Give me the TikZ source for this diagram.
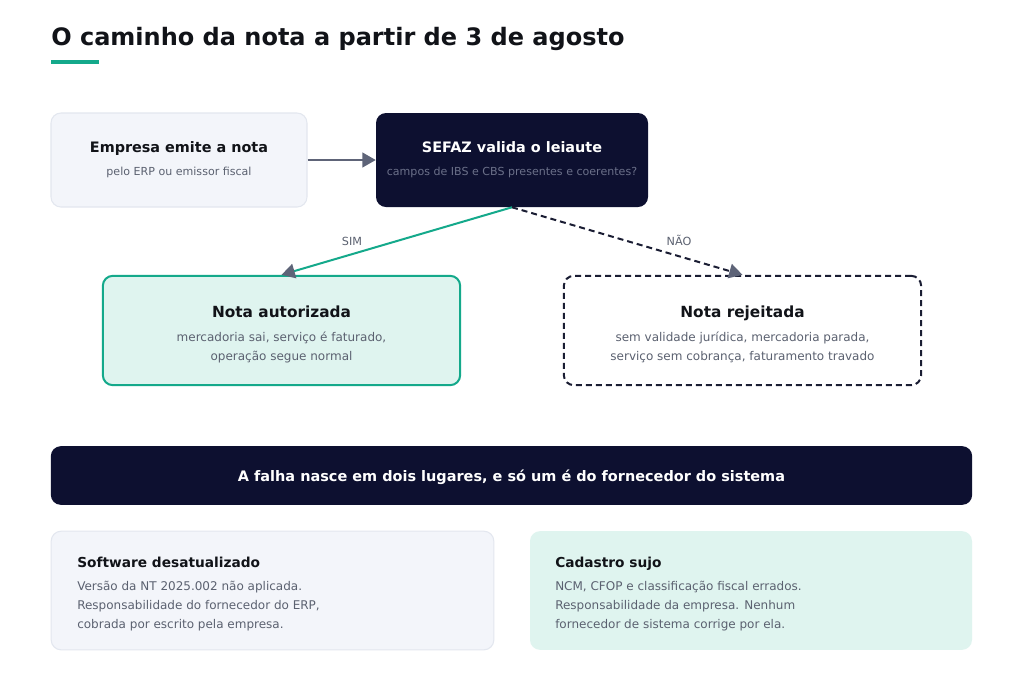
\documentclass[tikz,border=0pt]{standalone}
\usepackage{fontspec}
\setmainfont{DejaVu Sans}
\usetikzlibrary{arrows.meta,positioning}
\definecolor{ink}{HTML}{111318}
\definecolor{navy}{HTML}{0D1030}
\definecolor{teal}{HTML}{14A98B}
\definecolor{paper}{HTML}{F3F5FA}
\definecolor{paperline}{HTML}{E3E7EF}
\definecolor{mint}{HTML}{DFF4EF}
\definecolor{muted}{HTML}{5B6170}
\definecolor{navymuted}{HTML}{6B7089}
\definecolor{arrowgray}{HTML}{5E6478}
\definecolor{dashink}{HTML}{1A1D33}

\begin{document}
\begin{tikzpicture}[x=0.75pt,y=-0.75pt,
    tip/.style={-{Triangle[length=10pt,width=11pt,color=arrowgray]}}]
  \tikzstyle{card}=[rectangle,rounded corners=7.5pt,inner sep=0pt]
  \tikzstyle{head}=[inner sep=0pt,anchor=base,text=ink,font=\bfseries\fontsize{10.8}{13}\selectfont]
  \tikzstyle{sub}=[inner sep=0pt,anchor=base,text=muted,font=\fontsize{8.3}{10}\selectfont]
  \tikzstyle{body}=[inner sep=0pt,anchor=base,text=muted,font=\fontsize{9}{11}\selectfont]
  \useasboundingbox [fill=white] (0,0) rectangle (1024,687);

  % title
  \node [inner sep=0pt,anchor=base west,text=ink,font=\bfseries\fontsize{18}{21}\selectfont] (title) at (51,45) {O caminho da nota a partir de 3 de agosto};
  \node [fill=teal,inner sep=0pt,minimum width=36pt,minimum height=3pt,anchor=west] (bar) at (51,62) {};

  % flow
  \node [card,fill=paper,draw=paperline,line width=0.8pt,minimum width=192pt,minimum height=70.5pt] (emit) at (179,160) {};
  \node [head] (emitT) at (179,152) {Empresa emite a nota};
  \node [sub] (emitS) at (179,175) {pelo ERP ou emissor fiscal};

  \node [card,fill=navy,minimum width=204pt,minimum height=70.5pt] (sefaz) at (512,160) {};
  \node [head,text=white] (sefazT) at (512,152) {SEFAZ valida o leiaute};
  \node [sub,text=navymuted] (sefazS) at (512,175) {campos de IBS e CBS presentes e coerentes?};

  \node [card,fill=mint,draw=teal,line width=1.5pt,minimum width=268pt,minimum height=82pt] (ok) at (281.5,330.5) {};
  \node [head,font=\bfseries\fontsize{11.5}{14}\selectfont] (okT) at (281.5,317) {Nota autorizada};
  \node [body] (okA) at (281.5,341) {mercadoria sai, serviço é faturado,};
  \node [body] (okB) at (281.5,360) {operação segue normal};

  \node [card,fill=white,draw=dashink,line width=1.5pt,dash pattern=on 4.5pt off 3pt,minimum width=268pt,minimum height=82pt] (rej) at (742.5,330.5) {};
  \node [head,font=\bfseries\fontsize{11.5}{14}\selectfont] (rejT) at (742.5,317) {Nota rejeitada};
  \node [body] (rejA) at (742.5,341) {sem validade jurídica, mercadoria parada,};
  \node [body] (rejB) at (742.5,360) {serviço sem cobrança, faturamento travado};

  \draw [tip,arrowgray,line width=1.5pt] (emit) -- (sefaz);
  \draw [tip,teal,line width=1.5pt] (sefaz.south) -- (ok.north);
  \draw [tip,dashink,line width=1.5pt,dash pattern=on 4.5pt off 3pt] (sefaz.south) -- (rej.north);
  \node [sub,text=muted,font=\fontsize{8.4}{10}\selectfont] (sim) at (352,245) {SIM};
  \node [sub,text=muted,font=\fontsize{8.4}{10}\selectfont] (nao) at (679,245) {NÃO};

  % banner
  \node [card,fill=navy,minimum width=691pt,minimum height=44pt] (banner) at (511.5,475.5) {};
  \node [head,text=white,font=\bfseries\fontsize{10.85}{13}\selectfont] (bannerT) at (511.5,481) {A falha nasce em dois lugares, e só um é do fornecedor do sistema};

  % causes
  \node [card,fill=paper,draw=paperline,line width=0.8pt,minimum width=332pt,minimum height=89pt] (soft) at (272.5,590.5) {};
  \node [head,anchor=base west,font=\bfseries\fontsize{10.3}{12}\selectfont] (softT) at (77,567) {Software desatualizado};
  \node [body,anchor=base west] (softA) at (77,590) {Versão da NT 2025.002 não aplicada.};
  \node [body,anchor=base west] (softB) at (77,609) {Responsabilidade do fornecedor do ERP,};
  \node [body,anchor=base west] (softC) at (77,628) {cobrada por escrito pela empresa.};

  \node [card,fill=mint,minimum width=331.5pt,minimum height=89pt] (cad) at (751,590.5) {};
  \node [head,anchor=base west,font=\bfseries\fontsize{10.3}{12}\selectfont] (cadT) at (555,567) {Cadastro sujo};
  \node [body,anchor=base west] (cadA) at (555,590) {NCM, CFOP e classificação fiscal errados.};
  \node [body,anchor=base west] (cadB) at (555,609) {Responsabilidade da empresa. Nenhum};
  \node [body,anchor=base west] (cadC) at (555,628) {fornecedor de sistema corrige por ela.};
\end{tikzpicture}
\end{document}
